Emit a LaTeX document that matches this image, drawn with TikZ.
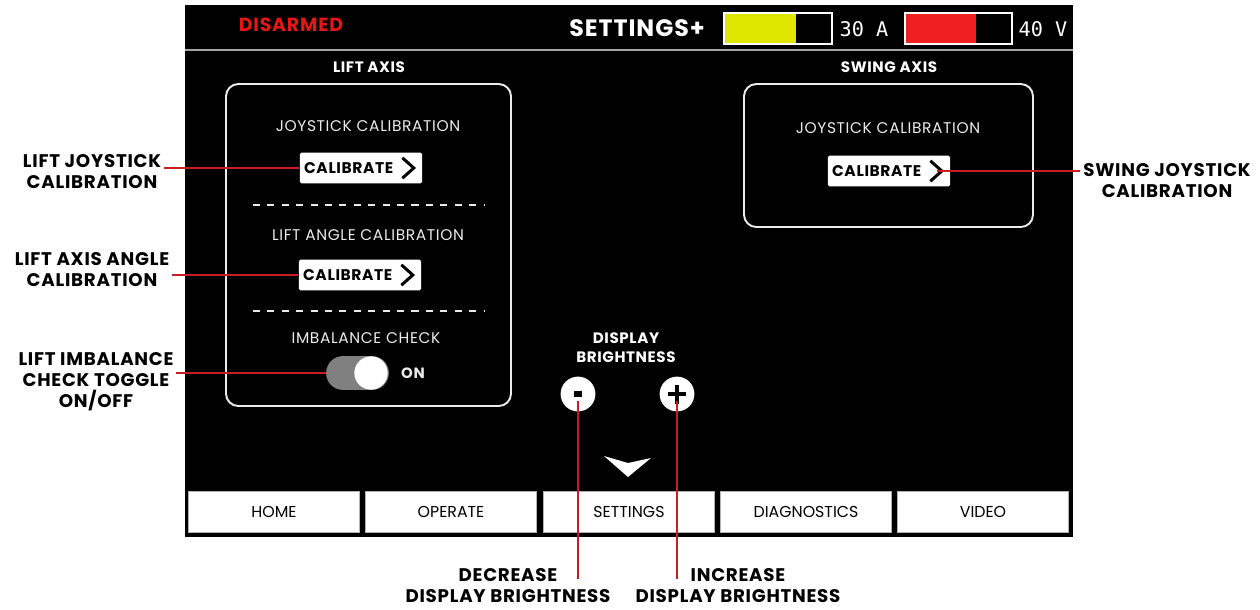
\documentclass[tikz,border=0pt]{standalone}
\usepackage{fontspec}
\setmainfont{Poppins}
\newfontfamily\widefnt[LetterSpace=4]{Poppins}
\newfontfamily\monofnt{DejaVu Sans Mono}
\usetikzlibrary{positioning}
\definecolor{callred}{RGB}{200,30,35}
\definecolor{alarmred}{RGB}{228,22,22}
\definecolor{ampyellow}{RGB}{222,230,0}
\definecolor{voltred}{RGB}{240,32,32}
\definecolor{panelwhite}{RGB}{235,235,235}
\definecolor{togglegray}{RGB}{128,128,128}
\tikzset{
  callout/.style={draw=callred,line width=0.9pt},
  calllabel/.style={font=\widefnt\bfseries\fontsize{10.4}{12}\selectfont,align=center,text=black,inner sep=1.5pt},
  paneltext/.style={font=\widefnt\fontsize{8.8}{10}\selectfont,text=panelwhite},
  headtext/.style={font=\widefnt\bfseries\fontsize{8.6}{11}\selectfont,text=white,align=center},
  calbtn/.style={fill=white,rounded corners=1pt,minimum width=69.7pt,minimum height=17.6pt,
    inner sep=0pt,text=black,font=\widefnt\bfseries\fontsize{8.8}{10}\selectfont},
  chev/.style={line width=1.7pt,black},
  tab/.style={draw=gray!60,fill=white,line width=0.6pt,minimum width=97.5pt,minimum height=23.8pt,
    inner sep=0pt,text=black,font=\fontsize{9}{10}\selectfont},
  round/.style={circle,fill=white,minimum size=19.8pt,inner sep=0pt}
}
\begin{document}
\begin{tikzpicture}[x=0.02cm,y=-0.02cm]
\useasboundingbox (0,0) rectangle (1260,609);
% screen
\fill[black] (185,5) rectangle (1073,537);
\draw[gray!70,line width=0.8pt] (185,50) -- (1073,50);
% top bar
\node[font=\widefnt\bfseries\fontsize{10.8}{12}\selectfont,text=alarmred] (armstate) at (291,25) {DISARMED};
\node[font=\widefnt\bfseries\fontsize{13.5}{15}\selectfont,text=white] (title) at (637,28) {SETTINGS+};
\fill[ampyellow] (724,13) rectangle (796,44);
\draw[white,line width=0.9pt] (724,13) rectangle (832,44);
\node[font=\monofnt\fontsize{11.5}{13}\selectfont,text=white] (amps) at (864,29) {30 A};
\fill[voltred] (905,13) rectangle (976,44);
\draw[white,line width=0.9pt] (905,13) rectangle (1012,44);
\node[font=\monofnt\fontsize{11.5}{13}\selectfont,text=white] (volts) at (1043,29) {40 V};
% lift axis panel
\node[headtext] (lifthead) at (369,67) {LIFT AXIS};
\draw[panelwhite,line width=1.1pt,rounded corners=7pt] (226,84) rectangle (511,406);
\node[paneltext] (ljtext) at (368,126) {JOYSTICK CALIBRATION};
\node[calbtn] (btnA) at (361,168) {CALIBRATE\hspace*{14pt}};
\draw[chev] ([xshift=-11.5pt,yshift=5.8pt]btnA.east) -- ([xshift=-5pt]btnA.east) -- ([xshift=-11.5pt,yshift=-5.8pt]btnA.east);
\draw[panelwhite,dash pattern=on 4pt off 4.2pt,line width=0.7pt] (253,205) -- (484,205);
\node[paneltext] (latext) at (368,235) {LIFT ANGLE CALIBRATION};
\node[calbtn] (btnB) at (360,275) {CALIBRATE\hspace*{14pt}};
\draw[chev] ([xshift=-11.5pt,yshift=5.8pt]btnB.east) -- ([xshift=-5pt]btnB.east) -- ([xshift=-11.5pt,yshift=-5.8pt]btnB.east);
\draw[panelwhite,dash pattern=on 4pt off 4.2pt,line width=0.7pt] (253,311) -- (484,311);
\node[paneltext] (ictext) at (366,338) {IMBALANCE CHECK};
\node[fill=togglegray,rounded corners=9.6pt,minimum width=35.7pt,minimum height=19.3pt,inner sep=0pt] (toggle) at (357.5,373) {};
\node[circle,fill=white,minimum size=19pt,inner sep=0pt] (knob) at (371,373) {};
\node[font=\widefnt\bfseries\fontsize{8.5}{10}\selectfont,text=panelwhite] (ontext) at (413,373) {ON};
% swing axis panel
\node[headtext] (swinghead) at (889,67) {SWING AXIS};
\draw[panelwhite,line width=1.1pt,rounded corners=7pt] (744,84) rectangle (1033,227);
\node[paneltext] (sjtext) at (888,128) {JOYSTICK CALIBRATION};
\node[calbtn] (btnC) at (889,171) {CALIBRATE\hspace*{14pt}};
\draw[chev] ([xshift=-11.5pt,yshift=5.8pt]btnC.east) -- ([xshift=-5pt]btnC.east) -- ([xshift=-11.5pt,yshift=-5.8pt]btnC.east);
\coordinate (chevC) at ([xshift=-8pt]btnC.east);
% brightness
\node[headtext] (brighthead) at (626,348) {DISPLAY\\[0pt]BRIGHTNESS};
\node[round] (minus) at (578,394) {};
\fill[black] (574,391) rectangle (582,397);
\node[round] (plus) at (677,394) {};
\draw[black,line width=2pt] (677,385) -- (677,404) (668,394) -- (686,394);
\fill[white] (604,456) -- (628,463) -- (651,458) -- (628,477) -- cycle;
% tabs
\node[tab] (home) at (274,512) {HOME};
\node[tab] (operate) at (451,512) {OPERATE};
\node[tab] (settings) at (629,512) {SETTINGS};
\node[tab] (diag) at (806,512) {DIAGNOSTICS};
\node[tab] (video) at (983,512) {VIDEO};
% callouts
\node[calllabel] (ljc) at (92,172) {LIFT JOYSTICK\\CALIBRATION};
\node[calllabel] (laac) at (92,270) {LIFT AXIS ANGLE\\CALIBRATION};
\node[calllabel] (litc) at (96,382) {LIFT IMBALANCE\\CHECK TOGGLE\\ON/OFF};
\node[calllabel] (sjc) at (1167,181) {SWING JOYSTICK\\CALIBRATION};
\node[calllabel] (decr) at (508,586) {DECREASE\\DISPLAY BRIGHTNESS};
\node[calllabel] (incr) at (738,586) {INCREASE\\DISPLAY BRIGHTNESS};
\coordinate (decrend) at (578,579);
\coordinate (incrend) at (677,579);
\path[callout] (btnA.west) -- (btnA.west -| ljc.east);
\path[callout] (btnB.west) -- (btnB.west -| laac.east);
\path[callout] (toggle.west) -- (toggle.west -| litc.east);
\path[callout] (chevC) -- (chevC -| sjc.west);
\path[callout] ([yshift=-4pt]minus.center) -- (decrend);
\path[callout] ([yshift=-4pt]plus.center) -- (incrend);
\end{tikzpicture}
\end{document}
